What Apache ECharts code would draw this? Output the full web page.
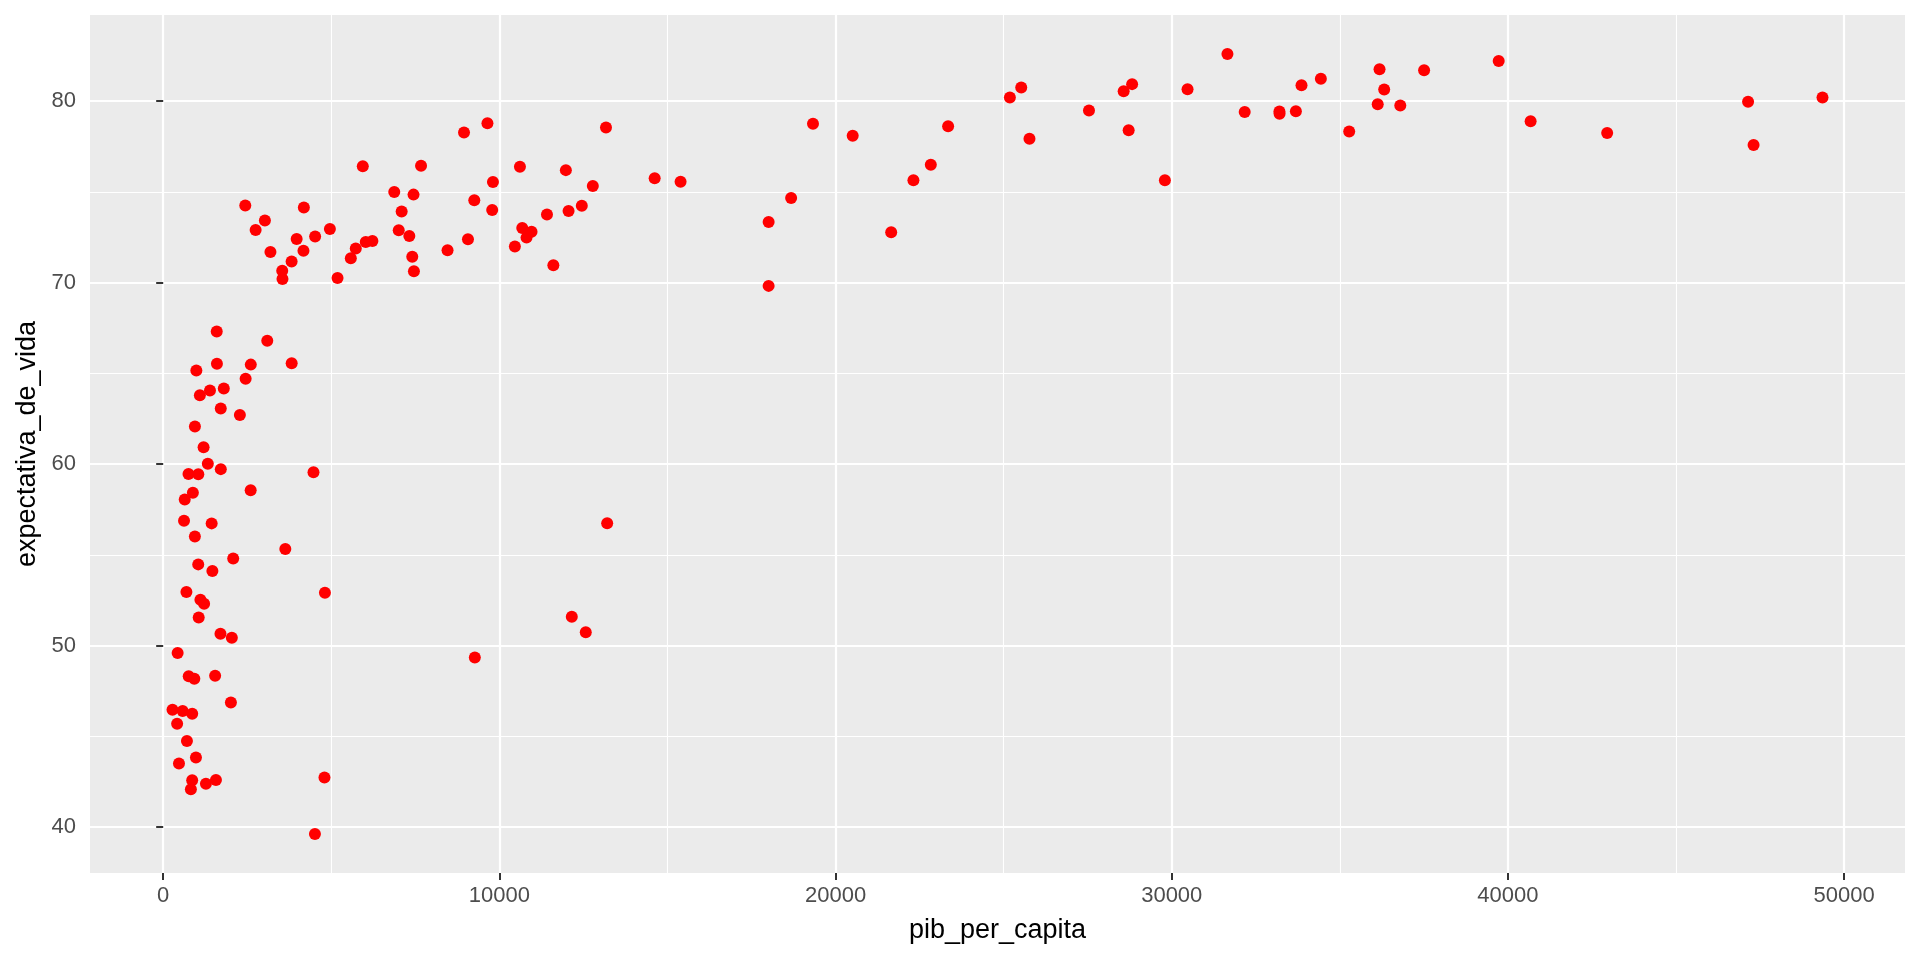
<!DOCTYPE html>
<html>
<head>
<meta charset="utf-8">
<script src="https://cdn.jsdelivr.net/npm/echarts@6/dist/echarts.min.js"></script>
<style>
  html, body { margin: 0; padding: 0; background: #fff; }
  #chart { width: 1920px; height: 960px; }
</style>
</head>
<body>
<div id="chart"></div>
<script>
// pib per capita (x) e expectativa de vida (y), um par por pais
var pibPerCapita = [
  974.58, 5937.03, 6223.37, 4797.23, 12779.38, 34435.37, 36126.49, 29796.05, 1391.25, 33692.61,
  1441.28, 3822.14, 7446.30, 12569.85, 9065.80, 10680.79, 1217.03, 430.07, 1713.78, 2042.10,
  36319.24, 706.02, 1704.06, 13171.64, 4959.11, 7006.58, 986.15, 277.55, 3632.56, 9645.06,
  1544.75, 14619.22, 8948.10, 22833.31, 35278.42, 2082.48, 6025.37, 6873.26, 5581.18, 5728.35,
  12154.09, 641.37, 690.81, 33207.08, 30470.02, 13206.48, 752.75, 32170.37, 1327.61, 27538.41,
  5186.05, 942.65, 579.23, 1201.64, 3548.33, 39724.98, 18008.94, 36180.79, 2452.21, 3540.65,
  11605.71, 4471.06, 40675.00, 25523.28, 28569.72, 7320.88, 31656.07, 4519.46, 1463.25, 1593.07,
  23348.14, 47306.99, 10461.06, 1569.33, 414.51, 12057.50, 1044.77, 759.35, 12451.66, 1042.58,
  1803.15, 10956.99, 11977.57, 3095.77, 9253.90, 3820.18, 823.69, 944.00, 4811.06, 1091.36,
  36797.93, 25185.01, 2749.32, 619.68, 2013.98, 49357.19, 22316.19, 2605.95, 9809.19, 4172.84,
  7408.91, 3190.48, 15389.92, 20509.65, 19328.71, 7670.12, 10808.48, 863.09, 1598.44, 21654.83,
  1712.47, 9786.53, 862.54, 47143.18, 18678.31, 25768.26, 926.14, 9269.66, 28821.06, 3970.10,
  2602.39, 4513.48, 33859.75, 37506.42, 4184.55, 28718.28, 1107.48, 7458.40, 882.97, 18008.51,
  7092.92, 8458.28, 1056.38, 33203.26, 42951.65, 10611.46, 11415.81, 2441.58, 3025.35, 2280.77,
  1271.21, 469.71
];
var expectativaDeVida = [
  43.83, 76.42, 72.30, 42.73, 75.32, 81.24, 79.83, 75.64, 64.06, 79.44,
  56.73, 65.55, 74.85, 50.73, 72.39, 73.01, 52.30, 49.58, 59.72, 50.43,
  80.65, 44.74, 50.65, 78.55, 72.96, 72.89, 65.15, 46.46, 55.32, 78.78,
  48.33, 75.75, 78.27, 76.49, 78.33, 54.79, 72.24, 74.99, 71.34, 71.88,
  51.58, 58.04, 52.95, 79.31, 80.66, 56.74, 59.45, 79.41, 60.02, 79.48,
  70.26, 56.01, 46.39, 60.92, 70.20, 82.21, 73.34, 81.76, 64.70, 70.65,
  70.96, 59.55, 78.89, 80.75, 80.55, 72.57, 82.60, 72.54, 54.11, 67.30,
  78.62, 77.59, 71.99, 42.59, 45.68, 73.95, 59.44, 48.30, 74.24, 54.47,
  64.16, 72.80, 76.20, 66.80, 74.54, 71.16, 42.08, 62.07, 52.91, 63.79,
  79.76, 80.20, 72.90, 56.87, 46.86, 80.20, 75.64, 65.48, 75.54, 71.75,
  71.42, 71.69, 75.56, 78.10, 78.75, 76.44, 72.48, 46.24, 65.53, 72.78,
  63.06, 74.00, 42.57, 79.97, 74.66, 77.93, 48.16, 49.34, 80.94, 72.40,
  58.56, 39.61, 80.88, 81.70, 74.14, 78.40, 52.52, 70.62, 58.42, 69.82,
  73.92, 71.78, 51.54, 79.43, 78.24, 76.38, 73.75, 74.25, 73.42, 62.70,
  42.38, 43.49
];
var xMajor = [0, 10000, 20000, 30000, 40000, 50000];
var xMinor = [5000, 15000, 25000, 35000, 45000];
var yMajor = [40, 50, 60, 70, 80];
var yMinor = [45, 55, 65, 75];

var pontos = pibPerCapita.map(function (x, i) { return [x, expectativaDeVida[i]] })

// limites com a expansao de 5% do ggplot
var xMin = -2177, xMax = 51811
var yMin = 37.46, yMax = 84.75

var labelStyle = { color: '#4D4D4D', fontSize: 22, fontFamily: 'Liberation Sans' }
var nameStyle = { color: '#000', fontSize: 27, fontFamily: 'Liberation Sans' }
var semVirgula = function (v) { return String(v) }

var option = {
  animation: false,
  grid: {
    left: 90, right: 15, top: 15, bottom: 87,
    show: true, backgroundColor: '#EBEBEB', borderWidth: 0
  },
  xAxis: [{
    type: 'value', min: xMin, max: xMax,
    name: 'pib_per_capita', nameLocation: 'middle', nameGap: 44, nameTextStyle: nameStyle,
    axisLine: { show: false },
    axisTick: { show: true, length: 7, customValues: xMajor, lineStyle: { color: '#333', width: 2 } },
    axisLabel: Object.assign({ margin: 12, customValues: xMajor, formatter: semVirgula }, labelStyle),
    splitLine: { show: true, lineStyle: { color: '#fff', width: 2.2 } }
  }, {
    type: 'value', min: xMin, max: xMax,
    axisLine: { show: false },
    axisTick: { show: false, customValues: xMinor },
    axisLabel: { show: false, customValues: xMinor },
    splitLine: { show: true, lineStyle: { color: '#fff', width: 1.1 } }
  }],
  yAxis: [{
    type: 'value', min: yMin, max: yMax,
    name: 'expectativa_de_vida', nameLocation: 'middle', nameGap: 46, nameTextStyle: nameStyle,
    axisLine: { show: false },
    axisTick: { show: true, length: 7, customValues: yMajor, lineStyle: { color: '#333', width: 2 } },
    axisLabel: Object.assign({ margin: 14, customValues: yMajor, formatter: semVirgula }, labelStyle),
    splitLine: { show: true, lineStyle: { color: '#fff', width: 2.2 } }
  }, {
    type: 'value', min: yMin, max: yMax,
    axisLine: { show: false },
    axisTick: { show: false, customValues: yMinor },
    axisLabel: { show: false, customValues: yMinor },
    splitLine: { show: true, lineStyle: { color: '#fff', width: 1.1 } }
  }],
  series: [{
    type: 'scatter',
    xAxisIndex: 0, yAxisIndex: 0,
    data: pontos,
    symbolSize: 12,
    itemStyle: { color: '#FF0000', opacity: 1 }
  }]
}

var myChart = echarts.init(document.getElementById('chart'))
myChart.setOption(option)
</script>
</body>
</html>
